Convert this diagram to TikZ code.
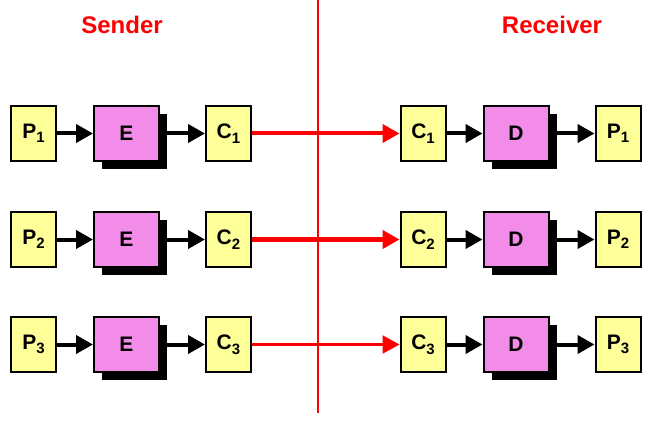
\documentclass[tikz,border=0pt]{standalone}
\usepackage{fontspec}
\setmainfont{Liberation Sans}
\usetikzlibrary{arrows.meta,positioning,shadows}

\definecolor{boxyellow}{RGB}{255,255,153}
\definecolor{boxpink}{RGB}{242,140,232}
\newcommand{\idx}[1]{\raisebox{-4.5pt}{\fontsize{15}{15}\selectfont #1}}

\begin{document}
\begin{tikzpicture}[
    x = 1pt, y = 1pt, % one unit is one pixel of the reference
    > = {Triangle[length=17pt,width=18pt]}, % arrow head style
    line width = 4pt % arrow line style
    ]

    \tikzset{
    plainbox/.style = {
        draw = black,
        line width = 2pt,
        fill = boxyellow,
        minimum width = 45pt,
        minimum height = 55pt,
        inner sep = 0pt,
        font = \fontsize{21}{21}\selectfont\bfseries
    },
    cryptbox/.style = {
        plainbox,
        fill = boxpink,
        minimum width = 65pt,
        drop shadow = {shadow xshift=8pt, shadow yshift=-8pt, fill=black, opacity=1}
    },
    title/.style = {
        text = red,
        font = \fontsize{24}{24}\selectfont\bfseries
    }
    }

    \useasboundingbox (0,0) rectangle (671,421);

    % titles and the divider
    \node[title] (sender) at (122,396) {Sender};
    \node[title] (receiver) at (552,396) {Receiver};
    \coordinate (top) at (318,421);
    \coordinate (bottom) at (318,8);
    \draw[red, line width=2pt] (top) -- (bottom);

    % one row per message
    \foreach \i/\yy/\w in {1/287.5/4pt, 2/181.5/4.5pt, 3/76.5/2.5pt} {
    \node[plainbox] (p\i) at (33.5,\yy) {P\idx{\i}};
    \node[cryptbox, right=36pt of p\i] (e\i) {E};
    \node[plainbox, right=45pt of e\i] (c\i) {C\idx{\i}};
    \node[plainbox] (rc\i) at (423,\yy) {C\idx{\i}};
    \node[cryptbox, right=36pt of rc\i] (d\i) {D};
    \node[plainbox, right=45pt of d\i] (rp\i) {P\idx{\i}};

    \draw[->] (p\i) -- (e\i);
    \draw[->] (e\i) -- (c\i);
    \draw[->] (rc\i) -- (d\i);
    \draw[->] (d\i) -- (rp\i);
    \draw[->, red, line width=\w] (c\i) -- (rc\i);
    }
\end{tikzpicture}
\end{document}
